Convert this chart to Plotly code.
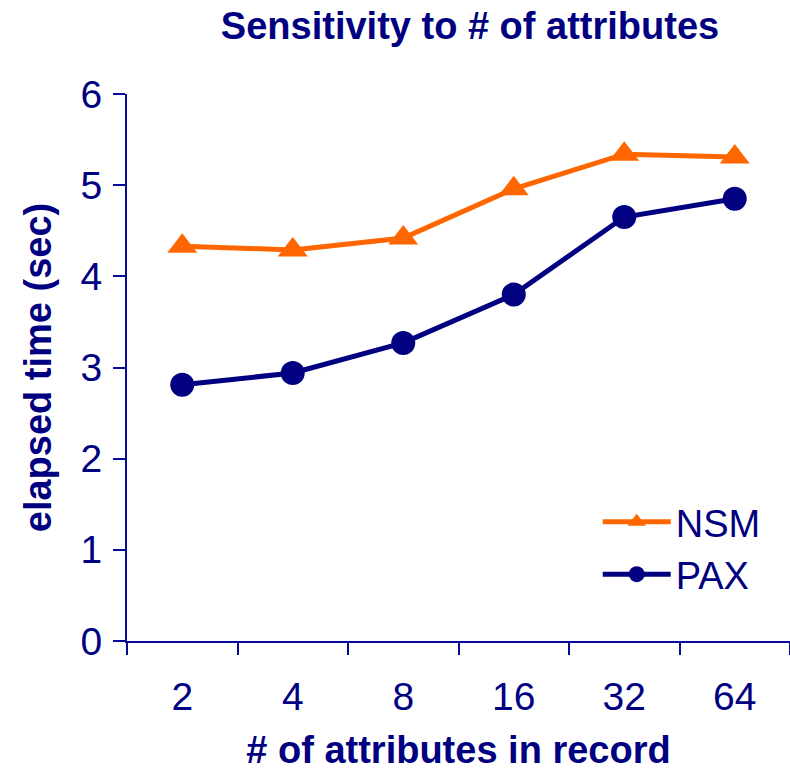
import plotly.graph_objects as go

categories = ["2", "4", "8", "16", "32", "64"]
nsm = [4.33, 4.29, 4.42, 4.96, 5.34, 5.31]
pax = [2.81, 2.94, 3.27, 3.80, 4.65, 4.85]
y_ticks = [0, 1, 2, 3, 4, 5, 6]

NAVY = "#000080"
AXIS = "#0A0A9A"
ORANGE = "#FF6600"
FONT = "Arial, Liberation Sans, sans-serif"

fig = go.Figure()
fig.add_trace(go.Scatter(
    x=categories, y=nsm, name="NSM", mode="lines+markers",
    line=dict(color=ORANGE, width=5),
    marker=dict(symbol="triangle-up", size=26, color=ORANGE),
    legendgroup="a",
))
fig.add_trace(go.Scatter(
    x=categories, y=pax, name="PAX", mode="lines+markers",
    line=dict(color=NAVY, width=5),
    marker=dict(symbol="circle", size=24, color=NAVY),
    legendgroup="b",
))

fig.update_layout(
    width=790, height=771,
    margin=dict(l=127, r=0, t=94, b=130, autoexpand=False),
    paper_bgcolor="white", plot_bgcolor="white",
    font=dict(family=FONT, color=NAVY),
    title=dict(
        text="<b>Sensitivity to # of attributes</b>",
        font=dict(size=38, color=NAVY, family=FONT),
        x=470 / 790, xanchor="center", xref="container",
        y=1 - 26 / 771, yanchor="middle", yref="container",
    ),
    showlegend=True,
    legend=dict(
        x=0.71, y=0.275, xanchor="left", yanchor="top",
        font=dict(size=38, color=NAVY, family=FONT),
        itemwidth=68, tracegroupgap=0, traceorder="grouped",
        bgcolor="rgba(0,0,0,0)",
    ),
    xaxis=dict(
        type="category",
        categoryorder="array", categoryarray=categories,
        range=[-0.5, len(categories) - 0.5],
        tickson="boundaries", automargin=False,
        showline=True, linecolor=AXIS, linewidth=2,
        ticks="outside", ticklen=12, tickwidth=2, tickcolor=AXIS,
        tickfont=dict(size=39, color=NAVY, family=FONT),
        ticklabelstandoff=20,
        showgrid=False, zeroline=False,
        title=dict(text="<b># of attributes in record</b>",
                   font=dict(size=38, color=NAVY, family=FONT),
                   standoff=34),
    ),
    yaxis=dict(
        range=[0, 6], tickvals=y_ticks, automargin=False,
        showline=True, linecolor=AXIS, linewidth=2,
        ticks="outside", ticklen=12, tickwidth=2, tickcolor=AXIS,
        tickfont=dict(size=39, color=NAVY, family=FONT),
        ticklabelstandoff=3,
        showgrid=False, zeroline=False,
        title=dict(text="<b>elapsed time (sec)</b>",
                   font=dict(size=38, color=NAVY, family=FONT),
                   standoff=17),
    ),
)

fig.write_html("out.html")
